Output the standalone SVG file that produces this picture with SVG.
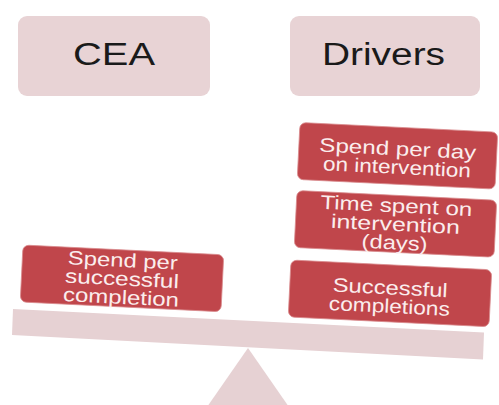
<svg xmlns="http://www.w3.org/2000/svg" width="499" height="405" viewBox="0 0 499 405">
  <style>
    .head { fill: #E8D3D5; }
    .head-label { font-family: "Liberation Sans", Arial, sans-serif; font-size: 31px; fill: #1A1A1A; text-anchor: middle; }
    .card { fill: #C0464B; stroke: #D98A8D; stroke-width: 0.8; }
    .card-label { font-family: "Liberation Sans", Arial, sans-serif; font-size: 19.5px; fill: #FBEDED; text-anchor: middle; }
    .scale { fill: #E6D1D3; }
  </style>

  <rect width="499" height="405" fill="#FFFFFF"/>

  <!-- column headings -->
  <g id="cea-heading">
    <rect class="head" x="18" y="16" width="192" height="80" rx="9"/>
    <text class="head-label" x="114" y="65" textLength="82" lengthAdjust="spacingAndGlyphs">CEA</text>
  </g>
  <g id="drivers-heading">
    <rect class="head" x="290" y="16" width="190" height="80" rx="9"/>
    <text class="head-label" x="383.5" y="65" textLength="123" lengthAdjust="spacingAndGlyphs">Drivers</text>
  </g>

  <!-- balance: fulcrum and beam -->
  <g id="fulcrum">
    <polygon class="scale" points="248,348 298,420 198,420"/>
  </g>
  <g id="beam">
    <polygon class="scale" points="13,309 484,332.5 483,359.5 12,335"/>
  </g>

  <!-- left pan -->
  <g id="spend-per-completion" transform="translate(23,245) rotate(2.8)">
    <rect class="card" x="0" y="0" width="201" height="57" rx="6"/>
    <text class="card-label" x="100.5" y="17" textLength="110" lengthAdjust="spacingAndGlyphs">Spend per</text>
    <text class="card-label" x="100.5" y="35.5" textLength="114" lengthAdjust="spacingAndGlyphs">successful</text>
    <text class="card-label" x="100.5" y="54" textLength="116" lengthAdjust="spacingAndGlyphs">completion</text>
  </g>

  <!-- right pan: stacked drivers -->
  <g id="spend-per-day" transform="translate(300,122.5) rotate(2.8)">
    <rect class="card" x="0" y="0" width="198" height="57" rx="6"/>
    <text class="card-label" x="99" y="28" textLength="157" lengthAdjust="spacingAndGlyphs">Spend per day</text>
    <text class="card-label" x="99" y="46.5" textLength="148" lengthAdjust="spacingAndGlyphs">on intervention</text>
  </g>
  <g id="time-spent" transform="translate(297,190.5) rotate(2.8)">
    <rect class="card" x="0" y="0" width="200" height="57" rx="6"/>
    <text class="card-label" x="100" y="17" textLength="152" lengthAdjust="spacingAndGlyphs">Time spent on</text>
    <text class="card-label" x="100" y="35.5" textLength="129" lengthAdjust="spacingAndGlyphs">intervention</text>
    <text class="card-label" x="100" y="54" textLength="66" lengthAdjust="spacingAndGlyphs">(days)</text>
  </g>
  <g id="successful-completions" transform="translate(291,260) rotate(2.8)">
    <rect class="card" x="0" y="0" width="201" height="57" rx="6"/>
    <text class="card-label" x="100.5" y="29.5" textLength="115" lengthAdjust="spacingAndGlyphs">Successful</text>
    <text class="card-label" x="100.5" y="48" textLength="121" lengthAdjust="spacingAndGlyphs">completions</text>
  </g>

  <!-- no connectors in this figure -->
  <g id="connectors"/>
</svg>
